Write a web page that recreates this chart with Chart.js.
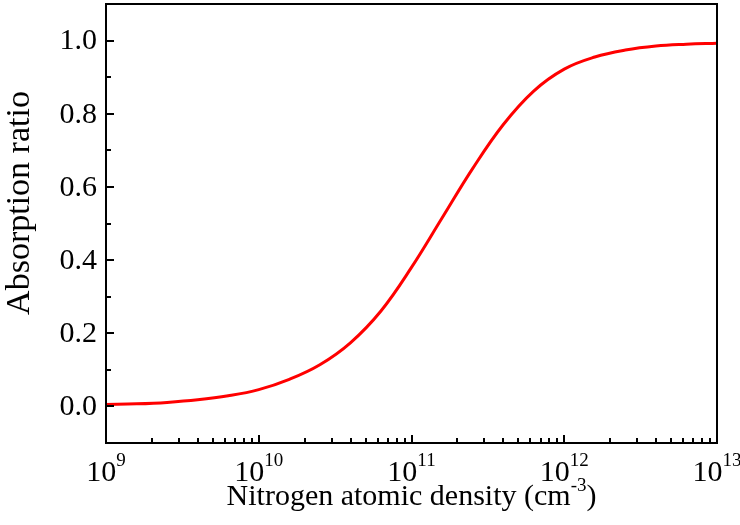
<!DOCTYPE html>
<html><head><meta charset="utf-8">
<script src="https://cdn.jsdelivr.net/npm/chart.js@4/dist/chart.umd.min.js"></script>
<style>html,body{margin:0;padding:0;background:#fff}</style>
</head><body>
<canvas id="c" width="740" height="525"></canvas>
<script>
// log10 of nitrogen atomic density (cm^-3)
const logDensity = [9.0, 9.2, 9.4, 9.6, 9.8, 10.0, 10.2, 10.4, 10.6, 10.8, 11.0, 11.2, 11.4, 11.6, 11.8, 12.0, 12.2, 12.4, 12.6, 12.8, 13.0];
// absorption ratio
const absorption = [0.005, 0.007, 0.011, 0.018, 0.029, 0.046, 0.074, 0.114, 0.174, 0.261, 0.380, 0.515, 0.650, 0.770, 0.862, 0.922, 0.955, 0.974, 0.985, 0.990, 0.993];
const xTickExponents = [9, 10, 11, 12, 13];
const yMajorTicks = [0.0, 0.2, 0.4, 0.6, 0.8, 1.0];
const yMinorTicks = [0.1, 0.3, 0.5, 0.7, 0.9];
const xTitleMain = 'Nitrogen atomic density (cm';
const xTitleSup = '-3';
const xTitleEnd = ')';
const yTitle = 'Absorption ratio';

const FONT = '"Liberation Serif", "Times New Roman", serif';
const points = logDensity.map((e, i) => ({ x: Math.pow(10, e), y: absorption[i] }));

const framePlugin = {
  id: 'framePlugin',
  afterDraw(chart) {
    const ctx = chart.ctx;
    const a = chart.chartArea;
    const xs = chart.scales.x, ys = chart.scales.y;
    ctx.save();
    ctx.strokeStyle = '#000';
    ctx.lineWidth = 2;
    ctx.strokeRect(a.left, a.top, a.right - a.left, a.bottom - a.top);
    // inward ticks
    ctx.beginPath();
    yMajorTicks.forEach(v => { const y = Math.round(ys.getPixelForValue(v)); ctx.moveTo(a.left, y); ctx.lineTo(a.left + 8, y); });
    yMinorTicks.forEach(v => { const y = Math.round(ys.getPixelForValue(v)); ctx.moveTo(a.left, y); ctx.lineTo(a.left + 5, y); });
    const eLast = xTickExponents[xTickExponents.length - 1];
    for (let e = xTickExponents[0]; e <= eLast; e++) {
      const xm = Math.round(xs.getPixelForValue(Math.pow(10, e)));
      ctx.moveTo(xm, a.bottom); ctx.lineTo(xm, a.bottom - 8);
      if (e < eLast) {
        for (let m = 2; m <= 9; m++) {
          const x = Math.round(xs.getPixelForValue(m * Math.pow(10, e)));
          ctx.moveTo(x, a.bottom); ctx.lineTo(x, a.bottom - 5);
        }
      }
    }
    ctx.stroke();
    ctx.fillStyle = '#000';
    // y tick labels
    ctx.font = '30px ' + FONT;
    ctx.textAlign = 'right';
    ctx.textBaseline = 'middle';
    yMajorTicks.forEach(v => {
      ctx.fillText(v.toFixed(1), a.left - 9, ys.getPixelForValue(v) + 1);
    });
    // x tick labels with superscript exponents
    ctx.textBaseline = 'alphabetic';
    ctx.textAlign = 'left';
    xTickExponents.forEach(e => {
      const px = xs.getPixelForValue(Math.pow(10, e));
      ctx.font = '30px ' + FONT;
      const wb = ctx.measureText('10').width;
      ctx.font = '19px ' + FONT;
      const ws = ctx.measureText(String(e)).width;
      const x0 = px - (wb + ws) / 2;
      ctx.font = '30px ' + FONT;
      ctx.fillText('10', x0, 481);
      ctx.font = '19px ' + FONT;
      ctx.fillText(String(e), x0 + wb, 466);
    });
    // x title
    ctx.font = '30px ' + FONT;
    const w1 = ctx.measureText(xTitleMain).width;
    const w3 = ctx.measureText(xTitleEnd).width;
    ctx.font = '19px ' + FONT;
    const w2 = ctx.measureText(xTitleSup).width;
    const cx = (a.left + a.right) / 2;
    const tx = cx - (w1 + w2 + w3) / 2;
    ctx.font = '30px ' + FONT;
    ctx.fillText(xTitleMain, tx, 505);
    ctx.font = '19px ' + FONT;
    ctx.fillText(xTitleSup, tx + w1, 491);
    ctx.font = '30px ' + FONT;
    ctx.fillText(xTitleEnd, tx + w1 + w2, 505);
    // y title
    ctx.translate(29, 203);
    ctx.rotate(-Math.PI / 2);
    ctx.textAlign = 'center';
    ctx.font = '34px ' + FONT;
    ctx.fillText(yTitle, 0, 0);
    ctx.restore();
  }
};

new Chart(document.getElementById('c'), {
  type: 'line',
  data: {
    datasets: [{
      data: points,
      borderColor: '#ff0000',
      borderWidth: 3,
      pointRadius: 0,
      fill: false,
      tension: 0.4
    }]
  },
  options: {
    responsive: false,
    animation: false,
    devicePixelRatio: 1,
    layout: { padding: { top: 4, right: 23, left: 0, bottom: 0 } },
    plugins: { legend: { display: false }, tooltip: { enabled: false } },
    scales: {
      x: {
        type: 'logarithmic',
        min: 1e9, max: 1e13,
        grid: { display: false, drawTicks: false },
        border: { display: false },
        ticks: { display: false },
        afterFit(s) { s.height = 82; }
      },
      y: {
        type: 'linear',
        min: -0.1, max: 1.1,
        grid: { display: false, drawTicks: false },
        border: { display: false },
        ticks: { display: false },
        afterFit(s) { s.width = 106; }
      }
    }
  },
  plugins: [framePlugin]
});
</script>
</body></html>
